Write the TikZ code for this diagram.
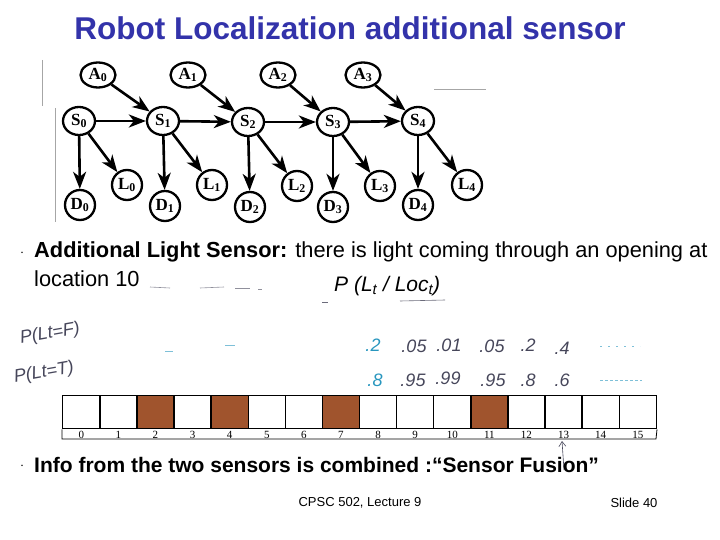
\documentclass[tikz,border=0pt]{standalone}
\usepackage{fontspec}
\setmainfont{Liberation Sans}
\newfontfamily\netfont{Liberation Serif}
\usepackage{tikz}
\usetikzlibrary{positioning,arrows.meta,shapes.geometric,calc}
\definecolor{slideblue}{RGB}{51,51,170}
\definecolor{cellbrown}{RGB}{160,84,45}
\definecolor{penteal}{RGB}{40,150,190}
\definecolor{penink}{RGB}{70,70,90}

\begin{document}
\begin{tikzpicture}[
    x=1pt, y=-1pt,
    state/.style={ellipse, draw, line width=2.3pt, minimum width=32pt, minimum height=28pt, inner sep=0pt, font=\netfont\bfseries\fontsize{17}{17}\selectfont},
    action/.style={state, minimum width=35pt, minimum height=25pt},
    obs/.style={circle, draw, line width=2.3pt, minimum size=30pt, inner sep=0pt, font=\netfont\bfseries\fontsize{17}{17}\selectfont},
    arrow/.style={-{Stealth[length=17pt,width=13pt,inset=5pt]}, line width=2.6pt},
    cell/.style={rectangle, draw, line width=1.4pt, minimum width=37.1pt, minimum height=33pt, inner sep=0pt, fill=#1},
    cell/.default=white,
    cellnum/.style={font=\netfont\fontsize{11}{11}\selectfont, inner sep=0pt, text height=7pt, text depth=0pt},
    pen/.style={font=\itshape\fontsize{18}{18}\selectfont, text=penink, inner sep=0pt},
    scribble/.style={line width=0.6pt, draw=penteal!60},
    frameline/.style={line width=0.7pt, draw=gray!70},
]
\useasboundingbox (0,0) rectangle (720,540);

% Title
\node[font=\bfseries\fontsize{31.5}{31.5}\selectfont, text=slideblue] (title) at (350,28) {Robot Localization additional sensor};

% Leftover frame lines of the pasted figure
\coordinate (fa) at (42,60);
\coordinate (fb) at (42,106);
\coordinate (fc) at (55,108);
\coordinate (fd) at (55,222);
\coordinate (fe) at (434,89);
\coordinate (ff) at (486,89);
\draw[frameline] (fa) -- (fb);
\draw[frameline] (fc) -- (fd);
\draw[frameline] (fe) -- (ff);

% Actions
\node[action] (a0) at (98,75) {A\textsubscript{0}};
\node[action] (a1) at (188,75) {A\textsubscript{1}};
\node[action] (a2) at (278,75) {A\textsubscript{2}};
\node[action] (a3) at (363,75) {A\textsubscript{3}};

% States
\node[state] (s0) at (79,121) {S\textsubscript{0}};
\node[state] (s1) at (163,121) {S\textsubscript{1}};
\node[state] (s2) at (248,122) {S\textsubscript{2}};
\node[state] (s3) at (333,122) {S\textsubscript{3}};
\node[state] (s4) at (418,121) {S\textsubscript{4}};

% Light sensor
\node[obs] (l0) at (127,185) {L\textsubscript{0}};
\node[obs] (l1) at (212,185) {L\textsubscript{1}};
\node[obs] (l2) at (297,186) {L\textsubscript{2}};
\node[obs] (l3) at (380,186) {L\textsubscript{3}};
\node[obs] (l4) at (467,185) {L\textsubscript{4}};

% Door sensor
\node[obs] (d0) at (80,205) {D\textsubscript{0}};
\node[obs] (d1) at (165,206) {D\textsubscript{1}};
\node[obs] (d2) at (250,207) {D\textsubscript{2}};
\node[obs] (d3) at (333,207) {D\textsubscript{3}};
\node[obs] (d4) at (418,205) {D\textsubscript{4}};

% Arrows
\draw[arrow] (a0) -- (s1);
\draw[arrow] (a1) -- (s2);
\draw[arrow] (a2) -- (s3);
\draw[arrow] (a3) -- (s4);
\draw[arrow] (s0) -- (s1);
\draw[arrow] (s1) -- (s2);
\draw[arrow] (s2) -- (s3);
\draw[arrow] (s3) -- (s4);
\draw[arrow] (s0) -- (d0);
\draw[arrow] (s1) -- (d1);
\draw[arrow] (s2) -- (d2);
\draw[arrow] (s3) -- (d3);
\draw[arrow] (s4) -- (d4);
\draw[arrow] (s0) -- (l0);
\draw[arrow] (s1) -- (l1);
\draw[arrow] (s2) -- (l2);
\draw[arrow] (s3) -- (l3);
\draw[arrow] (s4) -- (l4);

% First bullet
\node[font=\fontsize{14}{14}\selectfont] (bul1) at (22,253) {$\cdot$};
\node[anchor=west, font=\fontsize{21.8}{21.8}\selectfont, inner sep=0pt] (line1) at (34,252) {\textbf{Additional Light Sensor:} there is light coming through an opening at};
\node[anchor=west, font=\fontsize{21.8}{21.8}\selectfont, inner sep=0pt] (line2) at (34,279) {location 10};
\node[anchor=west, font=\itshape\fontsize{21}{21}\selectfont, inner sep=0pt] (plight) at (334,286) {P (L\textsubscript{\textit{t}} / Loc\textsubscript{\textit{t}})};

% Pen marks
\coordinate (m1a) at (150,287); \coordinate (m1b) at (170,288);
\coordinate (m2a) at (200,288); \coordinate (m2b) at (224,287);
\coordinate (m3a) at (235,288); \coordinate (m3b) at (250,288);
\coordinate (m4a) at (258,289); \coordinate (m4b) at (262,289);
\coordinate (m5a) at (322,302); \coordinate (m5b) at (328,302);
\coordinate (m6a) at (400,301); \coordinate (m6b) at (445,300);
\draw[scribble, draw=penink!60] (m1a) -- (m1b);
\draw[scribble, draw=penink!60] (m2a) -- (m2b);
\draw[scribble, draw=penink!60] (m3a) -- (m3b);
\draw[scribble, draw=penink!60] (m4a) -- (m4b);
\draw[scribble, draw=penink!80] (m5a) -- (m5b);
\draw[scribble, draw=penink!80] (m6a) -- (m6b);

% Handwritten probabilities
\node[pen, rotate=10] (pf) at (50,334) {P(Lt=F)};
\node[pen, rotate=10] (pt) at (44,373) {P(Lt=T)};

\node[pen, text=penteal] (f8) at (373,345) {.2};
\node[pen] (f9) at (414,346) {.05};
\node[pen] (f10) at (449,345) {.01};
\node[pen] (f11) at (492,346) {.05};
\node[pen] (f12) at (528,345) {.2};
\node[pen] (f13) at (562,348) {.4};

\node[pen, text=penteal] (t8) at (375,380) {.8};
\node[pen] (t9) at (413,380) {.95};
\node[pen] (t10) at (448,378) {.99};
\node[pen] (t11) at (493,380) {.95};
\node[pen] (t12) at (528,380) {.8};
\node[pen] (t13) at (562,380) {.6};

\coordinate (fl1) at (165,351); \coordinate (fr1) at (173,351);
\coordinate (fl2) at (225,345); \coordinate (fr2) at (235,345);
\coordinate (fl3) at (600,346); \coordinate (fr3) at (640,346);
\coordinate (tl3) at (600,380); \coordinate (tr3) at (642,380);
\draw[scribble] (fl1) -- (fr1);
\draw[scribble] (fl2) -- (fr2);
\draw[scribble, dash pattern=on 2pt off 6pt] (fl3) -- (fr3);
\draw[scribble, dash pattern=on 3pt off 2pt] (tl3) -- (tr3);

% Tape of locations
\foreach \i in {0,...,15} {
    \node[cell, anchor=north west] (c\i) at (62+37.1*\i,395) {};
    \node[cellnum] (n\i) at ($(c\i.south)+(0,5.5)$) {\i};
}
\foreach \i in {2,4,7,11} {
    \node[cell=cellbrown, anchor=north west] at (62+37.1*\i,395) {};
}
\coordinate (stripsw) at (62,439);
\coordinate (stripne) at (656,428);
\draw[line width=0.8pt] (c0.south west) -- (stripsw) -- (stripsw -| stripne) -- (c15.south east);

% Pen arrow to cell 13
\coordinate (penbot) at (564,470);
\coordinate (pentop) at (562,441);
\draw[line width=0.6pt, draw=penink, -{Straight Barb[length=5pt,width=7pt]}] (penbot) -- (pentop);

% Second bullet
\node[font=\fontsize{14}{14}\selectfont] (bul2) at (22,466) {$\cdot$};
\node[anchor=west, font=\bfseries\fontsize{21}{21}\selectfont, inner sep=0pt] (line3) at (34,465) {Info from the two sensors is combined :``Sensor Fusion''};

% Footer
\node[font=\fontsize{13}{13}\selectfont] (foot) at (360,503) {CPSC 502, Lecture 9};
\node[font=\fontsize{13}{13}\selectfont] (slide) at (634,503) {Slide 40};
\end{tikzpicture}
\end{document}
